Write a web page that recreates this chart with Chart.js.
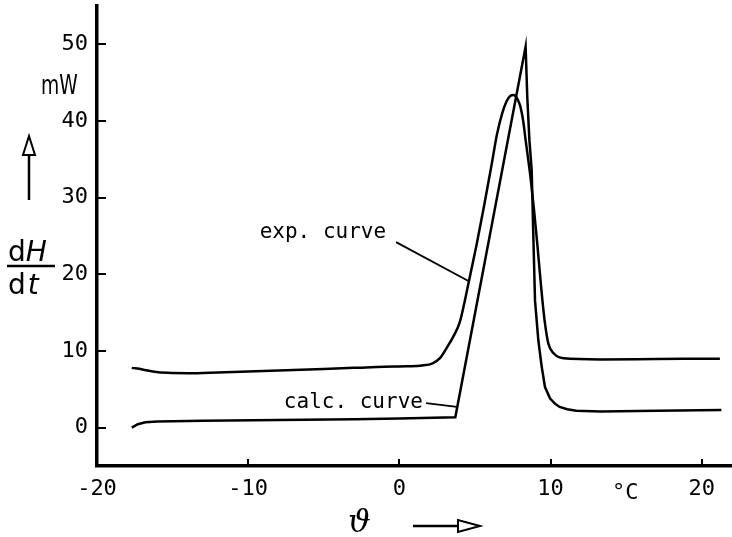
<!DOCTYPE html>
<html>
<head>
<meta charset="utf-8">
<script src="https://cdn.jsdelivr.net/npm/chart.js@4.4.1/dist/chart.umd.min.js"></script>
<style>
  html, body { margin: 0; padding: 0; background: #fff; }
  canvas { display: block; }
</style>
</head>
<body>
<canvas id="dsc-chart" width="732" height="537"></canvas>
<script>
"use strict";

// Temperature axis (°C) and heat flow axis (mW)
var xTickValues = [-20, -10, 0, 10, 20];
var yTickValues = [0, 10, 20, 30, 40, 50];

// exp. curve
var expX = [-17.7, -17.0, -16.2, -15.3, -14.0, -12.0, -9.0, -6.0, -3.0, -1.0, 0.5, 1.5, 2.2, 2.7, 3.1, 3.6, 4.0, 4.6, 5.1, 5.6, 6.1, 6.45, 6.8, 7.1, 7.35, 7.55, 7.8, 8.0, 8.19, 8.35, 8.52, 8.7, 8.9, 9.12, 9.3, 9.45, 9.63, 9.85, 10.2, 10.85, 13.3, 17.0, 21.2];
var expY = [7.8, 7.6, 7.3, 7.15, 7.1, 7.2, 7.4, 7.6, 7.8, 7.95, 8.0, 8.1, 8.4, 9.1, 10.3, 12.0, 13.8, 19.1, 23.8, 28.9, 34.3, 38.2, 41.0, 42.6, 43.3, 43.4, 42.9, 41.9, 40.0, 37.5, 35.0, 32.2, 28.5, 24.0, 20.0, 16.8, 13.6, 11.0, 9.7, 9.05, 8.9, 8.95, 9.0];

// calc. curve
var calcX = [-17.7, -17.3, -16.8, -16.0, -13.0, -8.0, -3.0, 0.0, 3.7, 8.35, 8.46, 8.6, 8.75, 8.85, 8.97, 9.19, 9.41, 9.63, 9.97, 10.3, 10.6, 11.1, 11.7, 13.3, 17.0, 21.3];
var calcY = [0.0, 0.45, 0.7, 0.8, 0.9, 1.0, 1.1, 1.2, 1.35, 49.7, 43.1, 37.5, 33.6, 25.8, 16.6, 11.4, 8.0, 5.3, 3.8, 3.1, 2.7, 2.4, 2.2, 2.1, 2.2, 2.3];

// leader lines from the labels to the curves
var expLeaderX = [-0.22, 4.6];
var expLeaderY = [24.2, 19.1];
var calcLeaderX = [1.77, 3.8];
var calcLeaderY = [3.2, 2.7];

function toPoints(xs, ys) {
    return xs.map(function (x, i) { return { x: x, y: ys[i] }; });
}

var monoFont = "'DejaVu Sans Mono', monospace";

// curve labels, anchored in data units (left edge, baseline)
var curveLabels = [
    { text: "exp. curve", x: -9.24, y: 24.7 },
    { text: "calc. curve", x: -7.64, y: 2.57 }
];

// tick marks pointing into the plot
var innerTicks = {
    id: "innerTicks",
    afterDraw: function (chart) {
        var ctx = chart.ctx, a = chart.chartArea;
        var xs = chart.scales.x, ys = chart.scales.y;
        ctx.save();
        ctx.strokeStyle = "#000";
        ctx.lineWidth = 2;
        yTickValues.forEach(function (v) {
            var py = Math.round(ys.getPixelForValue(v));
            ctx.beginPath();
            ctx.moveTo(a.left, py);
            ctx.lineTo(a.left + 9, py);
            ctx.stroke();
        });
        xTickValues.forEach(function (v) {
            var px = Math.round(xs.getPixelForValue(v));
            ctx.beginPath();
            ctx.moveTo(px, a.bottom);
            ctx.lineTo(px, a.bottom - 7);
            ctx.stroke();
        });
        ctx.restore();
    }
};

// curve labels and axis captions
var captions = {
    id: "captions",
    afterDraw: function (chart) {
        var ctx = chart.ctx;
        var xs = chart.scales.x, ys = chart.scales.y;
        ctx.save();
        ctx.fillStyle = "#000";
        ctx.strokeStyle = "#000";
        ctx.textBaseline = "alphabetic";
        ctx.textAlign = "left";

        ctx.font = "21px " + monoFont;
        curveLabels.forEach(function (l) {
            ctx.fillText(l.text, xs.getPixelForValue(l.x), ys.getPixelForValue(l.y));
        });

        // mW (condensed)
        ctx.save();
        ctx.translate(41, 94);
        ctx.scale(0.72, 1);
        ctx.font = "26px 'DejaVu Sans'";
        ctx.fillText("mW", 0, 0);
        ctx.restore();

        // upward arrow next to the y axis
        ctx.lineWidth = 2.5;
        ctx.beginPath();
        ctx.moveTo(29, 200);
        ctx.lineTo(29, 155);
        ctx.stroke();
        ctx.lineWidth = 2;
        ctx.beginPath();
        ctx.moveTo(29, 136);
        ctx.lineTo(35, 155);
        ctx.lineTo(23, 155);
        ctx.closePath();
        ctx.stroke();

        // dH/dt
        ctx.font = "28px 'DejaVu Sans'";
        ctx.fillText("d", 8, 261);
        ctx.fillText("d", 8, 294);
        var dw = ctx.measureText("d").width;
        ctx.font = "italic 28px 'DejaVu Sans'";
        ctx.fillText("H", 8 + dw, 261);
        ctx.fillText("t", 10 + dw, 294);
        ctx.lineWidth = 2.5;
        ctx.beginPath();
        ctx.moveTo(7, 266);
        ctx.lineTo(55, 266);
        ctx.stroke();

        // °C
        ctx.font = "22px " + monoFont;
        ctx.fillText("°C", 612, 499);

        // theta with arrow under the x axis
        ctx.font = "italic 32px 'DejaVu Serif'";
        ctx.fillText("ϑ", 348, 532);
        ctx.lineWidth = 2.5;
        ctx.beginPath();
        ctx.moveTo(413, 526);
        ctx.lineTo(458, 526);
        ctx.stroke();
        ctx.lineWidth = 2;
        ctx.beginPath();
        ctx.moveTo(480, 526);
        ctx.lineTo(458, 520);
        ctx.lineTo(458, 532);
        ctx.closePath();
        ctx.stroke();

        ctx.restore();
    }
};

var lineStyle = { borderColor: "#000", pointRadius: 0, showLine: true, fill: false };

new Chart(document.getElementById("dsc-chart"), {
    type: "scatter",
    data: {
        datasets: [
            Object.assign({ label: "exp. curve", data: toPoints(expX, expY), borderWidth: 2.5, cubicInterpolationMode: "monotone" }, lineStyle),
            Object.assign({ label: "calc. curve", data: toPoints(calcX, calcY), borderWidth: 2.5, tension: 0 }, lineStyle),
            Object.assign({ label: "exp leader", data: toPoints(expLeaderX, expLeaderY), borderWidth: 1.8, tension: 0 }, lineStyle),
            Object.assign({ label: "calc leader", data: toPoints(calcLeaderX, calcLeaderY), borderWidth: 1.8, tension: 0 }, lineStyle)
        ]
    },
    options: {
        responsive: false,
        animation: false,
        devicePixelRatio: 1,
        layout: { padding: { top: 6, right: 0, bottom: 0, left: 0 } },
        plugins: { legend: { display: false }, tooltip: { enabled: false } },
        elements: { point: { radius: 0 } },
        scales: {
            x: {
                type: "linear",
                min: -20,
                max: 22,
                afterBuildTicks: function (s) { s.ticks = xTickValues.map(function (v) { return { value: v }; }); },
                afterFit: function (s) { s.height = 71; s.paddingLeft = 0; s.paddingRight = 0; },
                grid: { display: false, drawTicks: false },
                border: { display: true, color: "#000", width: 3.5 },
                ticks: {
                    autoSkip: false, maxRotation: 0, padding: 10, color: "#000",
                    font: { family: monoFont, size: 22 },
                    callback: function (v) { return v < 0 ? "-" + Math.abs(v) : String(v); }
                }
            },
            y: {
                type: "linear",
                min: -5,
                max: 55,
                afterBuildTicks: function (s) { s.ticks = yTickValues.map(function (v) { return { value: v }; }); },
                afterFit: function (s) { s.width = 97; s.paddingTop = 0; s.paddingBottom = 0; },
                grid: { display: false, drawTicks: false },
                border: { display: true, color: "#000", width: 3.5 },
                ticks: {
                    autoSkip: false, padding: 9, color: "#000",
                    font: { family: monoFont, size: 22 }
                }
            }
        }
    },
    plugins: [innerTicks, captions]
});
</script>
</body>
</html>
